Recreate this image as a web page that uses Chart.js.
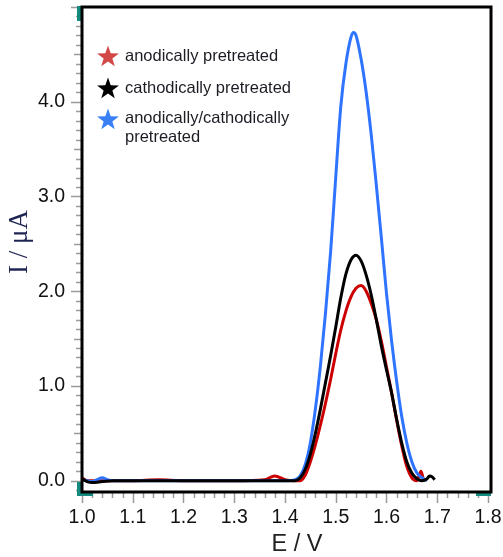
<!DOCTYPE html>
<html>
<head>
<meta charset="utf-8">
<script src="https://cdn.jsdelivr.net/npm/chart.js@4.4.1/dist/chart.umd.min.js"></script>
<style>
  body { margin: 0; background: #fff; }
  #chartBox { width: 503px; height: 557px; position: relative; }
</style>
</head>
<body>
<div id="chartBox"><canvas id="myChart"></canvas></div>
<script>
// potential (V) and current (uA)
var redE = [1.00, 1.01, 1.02, 1.05, 1.10, 1.15, 1.20, 1.30, 1.36, 1.38, 1.40, 1.42, 1.43, 1.44, 1.45, 1.46, 1.47, 1.48, 1.49, 1.50, 1.51, 1.52, 1.53, 1.54, 1.55, 1.56, 1.57, 1.58, 1.59, 1.60, 1.61, 1.62, 1.63, 1.64, 1.65, 1.66, 1.668, 1.672];
var redI = [0.03, 0.00, 0.00, 0.00, 0.00, 0.01, 0.00, 0.00, 0.01, 0.05, 0.01, 0.00, 0.00, 0.06, 0.20, 0.38, 0.59, 0.82, 1.07, 1.34, 1.59, 1.79, 1.94, 2.03, 2.06, 2.00, 1.87, 1.70, 1.47, 1.20, 0.93, 0.64, 0.37, 0.15, 0.03, 0.00, 0.10, 0.03];

var blackE = [1.00, 1.01, 1.02, 1.04, 1.06, 1.10, 1.20, 1.30, 1.40, 1.42, 1.43, 1.44, 1.45, 1.46, 1.47, 1.48, 1.49, 1.50, 1.51, 1.52, 1.53, 1.54, 1.55, 1.56, 1.57, 1.58, 1.59, 1.60, 1.61, 1.62, 1.63, 1.64, 1.65, 1.66, 1.67, 1.68, 1.685, 1.69, 1.695];
var blackI = [0.02, -0.01, -0.02, -0.01, 0.00, 0.00, 0.00, 0.00, 0.00, 0.00, 0.03, 0.12, 0.28, 0.50, 0.76, 1.04, 1.32, 1.62, 1.93, 2.18, 2.33, 2.38, 2.32, 2.17, 1.96, 1.70, 1.42, 1.17, 0.93, 0.65, 0.40, 0.20, 0.08, 0.02, 0.00, 0.02, 0.05, 0.04, 0.01];

var blueE = [1.00, 1.01, 1.02, 1.03, 1.04, 1.05, 1.06, 1.10, 1.20, 1.30, 1.40, 1.42, 1.43, 1.44, 1.45, 1.46, 1.47, 1.48, 1.49, 1.50, 1.51, 1.52, 1.53, 1.535, 1.54, 1.55, 1.56, 1.57, 1.58, 1.59, 1.60, 1.61, 1.62, 1.63, 1.64, 1.65, 1.66, 1.67, 1.68];
var blueI = [0.01, 0.00, -0.01, 0.01, 0.03, 0.01, 0.00, 0.00, 0.00, 0.00, 0.00, 0.01, 0.05, 0.17, 0.40, 0.76, 1.22, 1.78, 2.42, 3.20, 3.95, 4.40, 4.68, 4.73, 4.70, 4.45, 4.10, 3.65, 3.12, 2.56, 1.98, 1.48, 1.05, 0.68, 0.40, 0.20, 0.08, 0.03, 0.00];

var seriesNames = ["anodically pretreated", "cathodically pretreated", "anodically/cathodically pretreated"];
var xTicks = [1.0, 1.1, 1.2, 1.3, 1.4, 1.5, 1.6, 1.7, 1.8];
var yTicks = [0, 1, 2, 3, 4];

function pts(xs, ys) {
    return xs.map(function (x, i) { return { x: x, y: ys[i] }; });
}

function starPath(ctx, cx, cy, R, r) {
    ctx.beginPath();
    for (var k = 0; k < 10; k++) {
        var rad = (k % 2 === 0) ? R : r;
        var a = -Math.PI / 2 + k * Math.PI / 5;
        var px = cx + rad * Math.cos(a), py = cy + rad * Math.sin(a);
        if (k === 0) ctx.moveTo(px, py); else ctx.lineTo(px, py);
    }
    ctx.closePath();
}

// ticks, frame, legend and axis titles
const decor = {
    id: 'decor',
    afterDraw(chart) {
        var ctx = chart.ctx, a = chart.chartArea;
        var xs = chart.scales.x, ys = chart.scales.y;
        ctx.save();
        ctx.strokeStyle = '#9a9a9a';
        ctx.lineWidth = 1.5;
        // y ticks every 0.1
        for (var i = -1; i <= 50; i++) {
            var v = i / 10, py = Math.round(ys.getPixelForValue(v)) + 0.5;
            if (py < a.top || py > a.bottom) continue;
            var len = (i % 10 === 0) ? 10 : (i % 5 === 0 ? 7 : 5);
            ctx.beginPath(); ctx.moveTo(a.left - 1, py); ctx.lineTo(a.left - 1 - len, py); ctx.stroke();
        }
        // x ticks every 0.02
        for (var j = 0; j <= 40; j++) {
            var px = Math.round(xs.getPixelForValue(1 + j * 0.02)) + 0.5;
            var l2 = (j % 5 === 0) ? 10 : 5;
            ctx.beginPath(); ctx.moveTo(px, a.bottom + 1); ctx.lineTo(px, a.bottom + 1 + l2); ctx.stroke();
        }
        // teal corner marks
        ctx.fillStyle = '#138a7e';
        ctx.fillRect(a.left - 5, a.top - 1, 4, 15);
        ctx.fillRect(a.left - 5, a.bottom - 10, 4, 12);
        ctx.fillRect(a.left - 5, a.bottom + 1, 16, 3);
        ctx.fillRect(a.right - 15, a.bottom + 1, 15, 3);
        // frame
        ctx.strokeStyle = '#000';
        ctx.lineWidth = 3;
        ctx.strokeRect(a.left, a.top, a.right - a.left, a.bottom - a.top);

        // legend
        var cols = ['#d24848', '#000000', '#3a80f5'];
        var sy = [56, 88, 119];
        for (var k = 0; k < 3; k++) {
            ctx.fillStyle = cols[k];
            starPath(ctx, 108, sy[k] + 1, 11.5, 4.6);
            ctx.fill();
        }
        ctx.fillStyle = '#1c1c24';
        ctx.font = '16.5px "Liberation Sans", Arial, sans-serif';
        ctx.textAlign = 'left';
        ctx.textBaseline = 'middle';
        ctx.fillText(seriesNames[0], 125, 56);
        ctx.fillText(seriesNames[1], 125, 88);
        ctx.fillText('anodically/cathodically', 125, 118);
        ctx.fillText('pretreated', 125, 137);

        // x axis title
        ctx.fillStyle = '#222';
        ctx.font = '23.5px "Liberation Sans", Arial, sans-serif';
        ctx.textAlign = 'center';
        ctx.fillText('E / V', 297, 545);

        // y axis title
        ctx.translate(20, 242);
        ctx.rotate(-Math.PI / 2);
        ctx.fillStyle = '#1e2452';
        ctx.font = '27px "Liberation Serif", "Times New Roman", serif';
        ctx.fillText('I / μA', 0, 0);
        ctx.restore();
    }
};

const data = {
    datasets: [
        { label: seriesNames[1], data: pts(blackE, blackI), borderColor: '#000000', order: 0 },
        { label: seriesNames[2], data: pts(blueE, blueI), borderColor: '#2f74ff', order: 1 },
        { label: seriesNames[0], data: pts(redE, redI), borderColor: '#cc0000', order: 2 }
    ]
};
data.datasets.forEach(function (d) {
    d.borderWidth = 3;
    d.pointRadius = 0;
    d.fill = false;
    d.cubicInterpolationMode = 'monotone';
});

const config = {
    type: 'line',
    data,
    options: {
        responsive: true,
        maintainAspectRatio: false,
        animation: false,
        layout: { padding: { top: 7, right: 12, left: 0, bottom: 0 } },
        plugins: { legend: { display: false }, tooltip: { enabled: false } },
        scales: {
            x: {
                type: 'linear',
                min: 1.0,
                max: 1.806,
                grid: { display: false, drawTicks: false },
                border: { display: false },
                afterBuildTicks: function (s) { s.ticks = xTicks.map(function (v) { return { value: v }; }); },
                afterFit: function (s) { s.height = 65; s.paddingLeft = 0; s.paddingRight = 0; },
                ticks: {
                    autoSkip: false, maxRotation: 0, padding: 14,
                    color: '#111',
                    font: { family: '"Liberation Sans", Arial, sans-serif', size: 19.5 },
                    callback: function (v) { return v.toFixed(1); }
                }
            },
            y: {
                min: -0.12,
                max: 5.0,
                grid: { display: false, drawTicks: false },
                border: { display: false },
                afterBuildTicks: function (s) { s.ticks = yTicks.map(function (v) { return { value: v }; }); },
                afterFit: function (s) { s.width = 82; s.paddingTop = 0; s.paddingBottom = 0; },
                ticks: {
                    padding: 17,
                    color: '#111',
                    font: { family: '"Liberation Sans", Arial, sans-serif', size: 19.5 },
                    callback: function (v) { return v.toFixed(1); }
                }
            }
        }
    },
    plugins: [decor]
};

const myChart = new Chart(document.getElementById('myChart'), config);
</script>
</body>
</html>
